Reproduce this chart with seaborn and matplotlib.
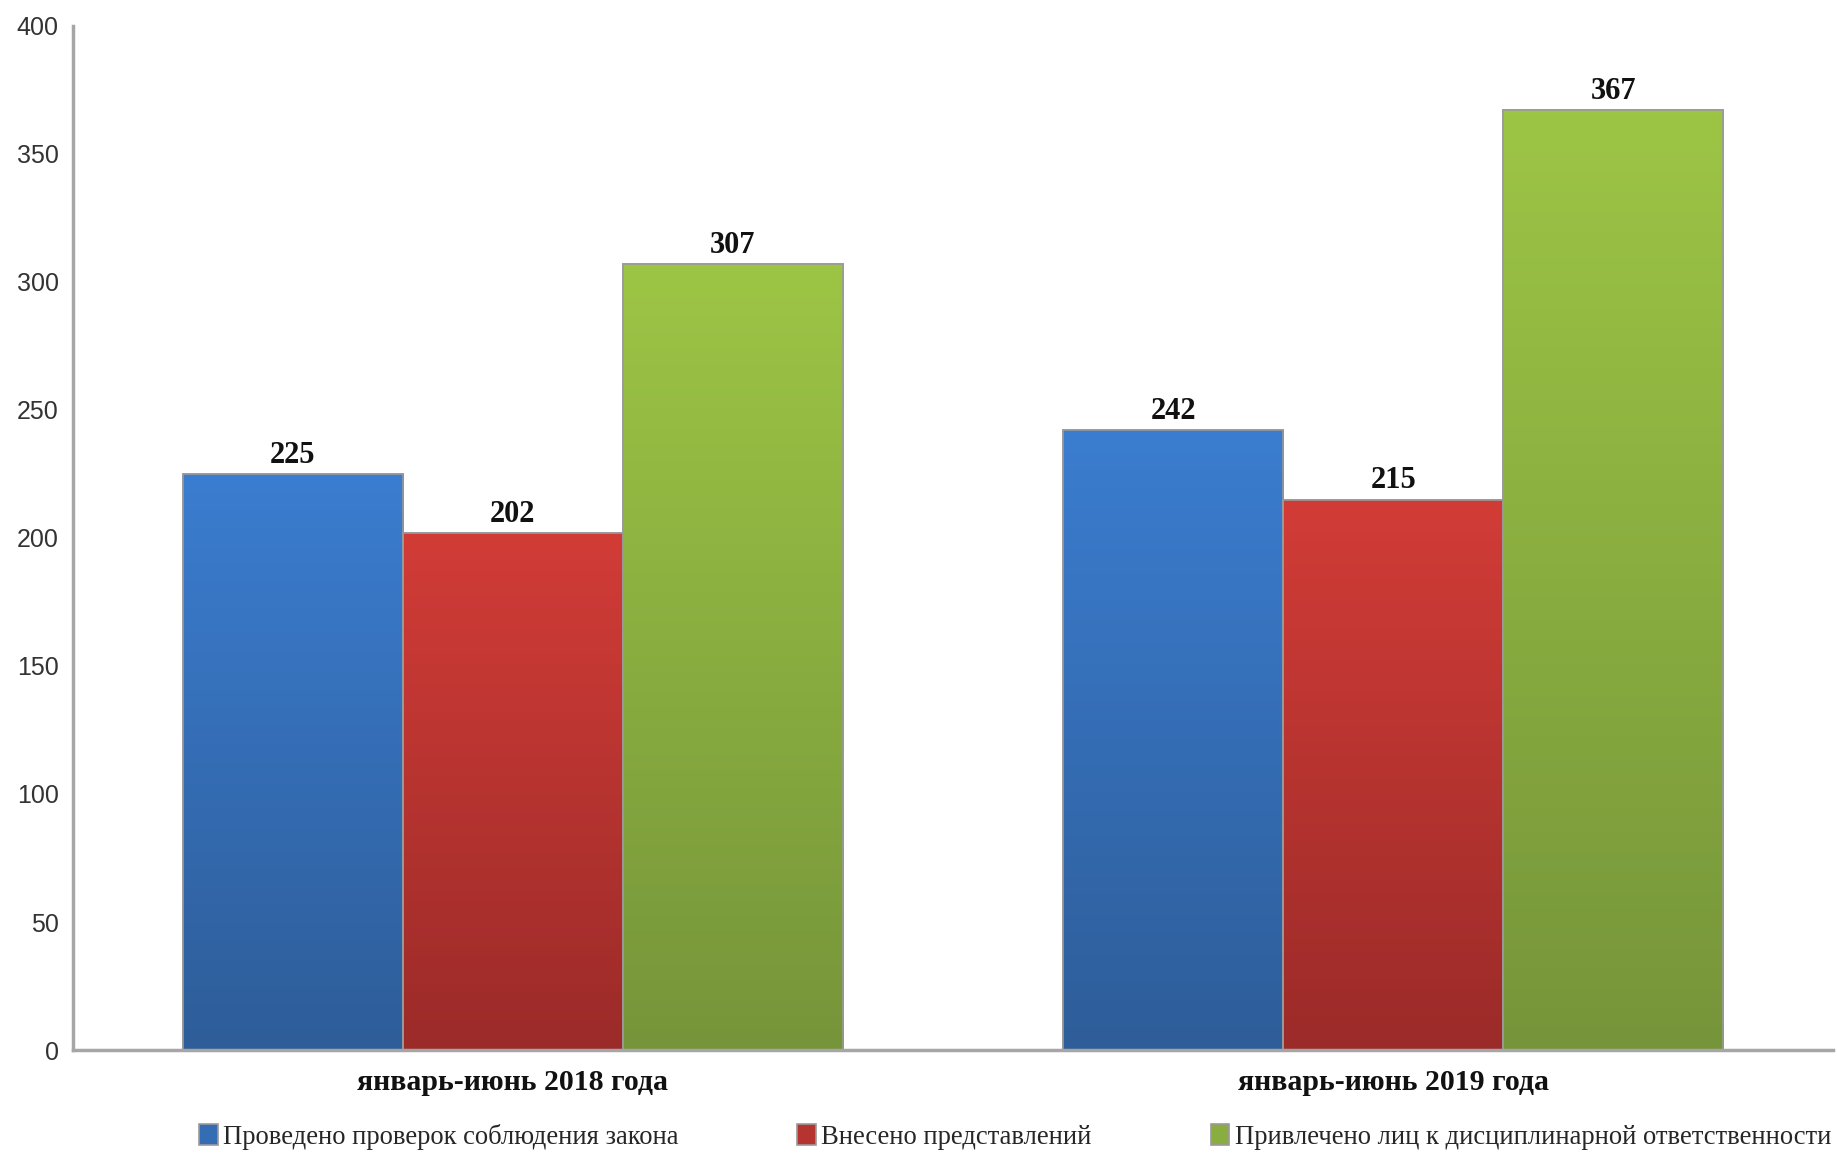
import numpy as np
import pandas as pd
import matplotlib
matplotlib.use("Agg")
import matplotlib.pyplot as plt
import seaborn as sns
from matplotlib.colors import LinearSegmentedColormap

periods = ["январь-июнь 2018 года", "январь-июнь 2019 года"]
series = ["Проведено проверок соблюдения закона",
          "Внесено представлений",
          "Привлечено лиц к дисциплинарной ответственности"]
checks = [225, 242]
submissions = [202, 215]
disciplined = [307, 367]
yticks = [0, 50, 100, 150, 200, 250, 300, 350, 400]

top_colors = ["#3b7dd0", "#d23c37", "#9dc545"]
bottom_colors = ["#2e5d99", "#9b2b29", "#76953a"]

df = pd.DataFrame({
    "period": periods * 3,
    "series": [series[0]] * 2 + [series[1]] * 2 + [series[2]] * 2,
    "value": checks + submissions + disciplined,
})

sns.set_style("white")
plt.rcParams["font.family"] = ["Liberation Serif", "DejaVu Serif"]

fig = plt.figure(figsize=(18.37, 11.54), dpi=100)
ax = fig.add_axes([0.0395, 0.0901, 0.9585, 0.8875])

palette = dict(zip(series, [(np.array(matplotlib.colors.to_rgb(t)) + np.array(matplotlib.colors.to_rgb(b))) / 2
                            for t, b in zip(top_colors, bottom_colors)]))
sns.barplot(data=df, x="period", y="value", hue="series", hue_order=series,
            order=periods, palette=palette, width=0.75, ax=ax,
            edgecolor="#9a9a9a", linewidth=1.2, saturation=1, legend=True)

ax.set_xlim(-0.5, 1.5)
ax.set_ylim(0, 400)

# gradient overlay per bar
containers = ax.containers
for ci, cont in enumerate(containers):
    cmap = LinearSegmentedColormap.from_list("g", [bottom_colors[ci], top_colors[ci]])
    grad = np.linspace(0, 1, 256).reshape(-1, 1)
    for patch in cont.patches:
        x0, y0 = patch.get_x(), patch.get_y()
        w, h = patch.get_width(), patch.get_height()
        im = ax.imshow(grad, cmap=cmap, origin="lower", aspect="auto",
                       extent=[x0, x0 + w, y0, y0 + h], zorder=patch.get_zorder() + 0.1,
                       interpolation="bicubic")
        im.set_clip_path(patch)
    ax.bar_label(cont, fmt="%d", padding=3, fontsize=22, fontweight="bold",
                 family=["Liberation Serif"], color="#111111")
    for patch in cont.patches:
        edge = matplotlib.patches.Rectangle((patch.get_x(), patch.get_y()), patch.get_width(),
                                            patch.get_height(), fill=False,
                                            edgecolor="#9a9a9a", linewidth=1.2,
                                            zorder=patch.get_zorder() + 0.2)
        ax.add_patch(edge)

ax.set_xlim(-0.5, 1.5)
ax.set_ylim(0, 400)
ax.set_yticks(yticks)
ax.set_yticklabels([str(t) for t in yticks], family=["Liberation Sans"], fontsize=18, color="#333333")
ax.set_xticks(range(len(periods)))
ax.set_xticklabels(periods, fontsize=21.5, fontweight="bold", color="#111111")
ax.tick_params(axis="both", length=0)
ax.tick_params(axis="y", pad=10)
ax.tick_params(axis="x", pad=14)
ax.set_xlabel("")
ax.set_ylabel("")

for side in ["top", "right"]:
    ax.spines[side].set_visible(False)
for side in ["left", "bottom"]:
    ax.spines[side].set_color("#a6a6a6")
    ax.spines[side].set_linewidth(2.5)

sns.move_legend(ax, "center left", bbox_to_anchor=(0.1085, 0.0147), bbox_transform=fig.transFigure,
                ncol=3, title=None, frameon=False, fontsize=19.2,
                handlelength=0.7, handleheight=0.85, handletextpad=0.2,
                columnspacing=4.45, borderpad=0, borderaxespad=0)

fig.savefig("out.png", dpi=100)
